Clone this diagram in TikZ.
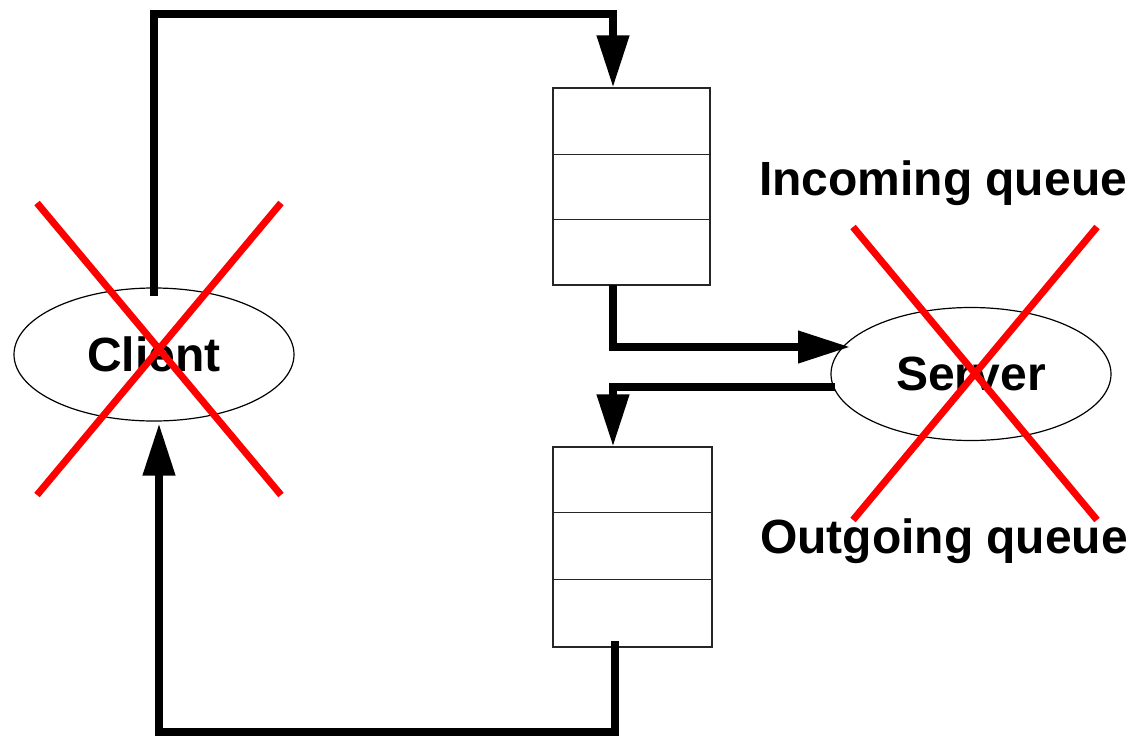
\documentclass[tikz,border=0pt]{standalone}
\usepackage{fontspec}
\setmainfont{Liberation Sans}
\usetikzlibrary{arrows.meta,shapes.geometric}
\begin{document}
\begin{tikzpicture}[x=1pt,y=-1pt,
  every node/.style={font=\fontsize{48}{56}\selectfont\bfseries},
  actor/.style={draw, ellipse, line width=1.2pt, minimum width=280pt, minimum height=133pt, inner sep=0pt},
  qbox/.style={draw, line width=1.2pt, draw=black!85, inner sep=0pt},
  flow/.style={line width=7.5pt, miter limit=10, -{Triangle[length=52pt,width=31pt]}},
  cross/.style={draw=red, line width=7pt}]
\useasboundingbox (0,0) rectangle (1134,736);
% queues
\node[qbox, minimum width=157pt, minimum height=197pt] (inq) at (631.5,186.5) {};
\node[qbox, minimum width=159pt, minimum height=200pt] (outq) at (632.5,547) {};
\draw[line width=1.2pt, black!85] ([yshift=-67pt]inq.north west) -- ([yshift=-67pt]inq.north east);
\draw[line width=1.2pt, black!85] ([yshift=-132pt]inq.north west) -- ([yshift=-132pt]inq.north east);
\draw[line width=1.2pt, black!85] ([yshift=-66pt]outq.north west) -- ([yshift=-66pt]outq.north east);
\draw[line width=1.2pt, black!85] ([yshift=-133pt]outq.north west) -- ([yshift=-133pt]outq.north east);
% actors
\node[actor] (client) at (154,354.5) {Client};
\node[actor] (server) at (971,374) {Server};
% labels
\node[anchor=base] (lin) at (943,195) {Incoming queue};
\node[anchor=base] (lout) at (944,553) {Outgoing queue};
% connectors
\coordinate (c1) at (154,14);
\coordinate (c2) at (613,14);
\draw[flow] ([yshift=-9pt]client.north) -- (c1) -- (c2) -- (c2 |- inq.north);
\coordinate (c3) at (613,347);
\coordinate (c4) at (850,347);
\draw[flow] ([yshift=1pt]c3 |- inq.south) -- (c3) -- (c4);
\coordinate (c5) at (835,387);
\coordinate (c6) at (613,387);
\draw[flow] (c5) -- (c6) -- (c6 |- outq.north);
\coordinate (c7) at (615,641);
\coordinate (c8) at (615,732);
\coordinate (c9) at (159,732);
\draw[flow] (c7) -- (c8) -- (c9) -- ([yshift=-2pt]c9 |- client.south);
% crosses
\coordinate (xc) at ([shift={(5,-5.5)}]client.center);
\coordinate (xs) at ([shift={(4,-0.5)}]server.center);
\draw[cross] ([shift={(-122,-146)}]xc) -- ([shift={(122,146)}]xc);
\draw[cross] ([shift={(122,-146)}]xc) -- ([shift={(-122,146)}]xc);
\draw[cross] ([shift={(-122,-146.5)}]xs) -- ([shift={(122,146.5)}]xs);
\draw[cross] ([shift={(122,-146.5)}]xs) -- ([shift={(-122,146.5)}]xs);
\end{tikzpicture}
\end{document}
